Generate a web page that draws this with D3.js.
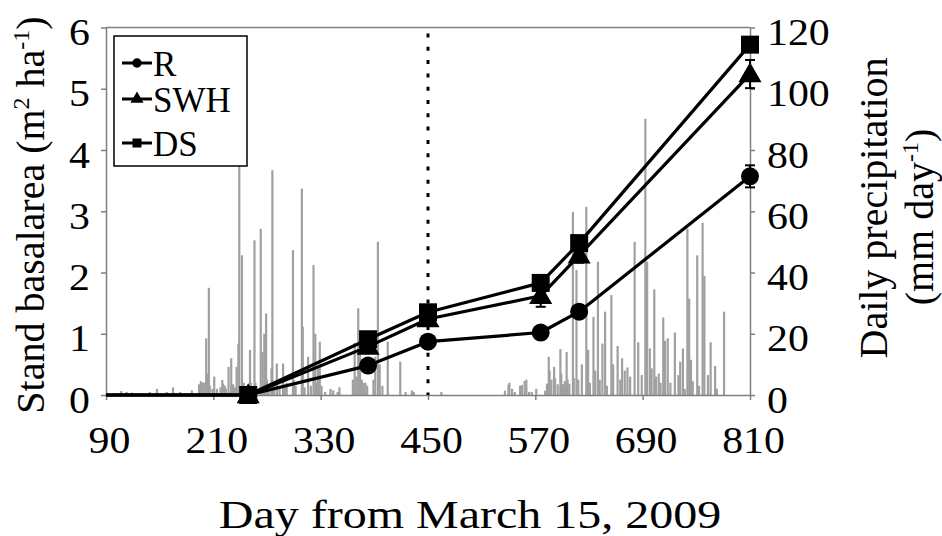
<!DOCTYPE html>
<html>
<head>
<meta charset="utf-8">
<script src="https://cdn.jsdelivr.net/npm/d3@7"></script>
<style>
  html, body { margin: 0; padding: 0; background: #fff; }
  svg { display: block; }
  text { font-family: "Liberation Serif", "Times New Roman", serif; fill: #000; }
</style>
</head>
<body>
<svg id="chart" width="942" height="536"></svg>
<script>
// ---------------- DATA ----------------
const sampleDays = [90, 249, 383, 450, 576, 619, 810];
const markerShown = [false, true, true, true, true, true, true];
const basalR   = [0, 0, 0.48, 0.87, 1.02, 1.36, 3.57];
const basalSWH = [0, 0, 0.79, 1.24, 1.62, 2.28, 5.24];
const basalDS  = [0, 0, 0.91, 1.35, 1.83, 2.48, 5.72];
const errR   = [0, 0, 0.05, 0.07, 0.06, 0.08, 0.18];
const errSWH = [0, 0, 0.06, 0.10, 0.18, 0.12, 0.23];
const errDS  = [0, 0, 0.06, 0.08, 0.08, 0.10, 0.12];
const seriesNames = ["R", "SWH", "DS"];

const precipDays = [107,113,119,139,147,158,165,173,186,194,196,198,200,202,203,205,206,209,211,214,218,220,221,223,224,227,230,232,234,236,238,239,242,244,251,252,256,257,263,265,267,269,270,272,275,276,278,281,284,288,290,292,299,300,302,309,310,312,316,319,322,324,326,327,329,331,335,341,344,349,351,366,368,370,372,374,376,378,380,382,389,391,394,396,399,405,419,425,432,434,465,536,540,541,544,547,553,555,558,560,563,566,571,581,583,585,586,588,591,592,595,598,599,601,603,605,606,608,612,613,616,618,622,627,629,631,635,637,640,642,645,648,650,655,657,662,665,667,670,673,676,681,685,689,693,695,698,700,703,705,708,710,713,715,718,721,726,730,732,735,737,740,742,744,746,751,753,757,759,763,766,771,773,781];
const precipMm = [1.3,1,0.8,1,2,1,2.5,1,1.5,3.5,4.5,4.1,4,18.5,7,35,3,2,6,2,2.5,4.9,3.7,3,2,9.2,12,3.5,2.5,9.2,16.8,85,45.6,4,14.7,4,50.5,4,54.3,14,20,26.6,5,3,8.7,73.4,4,10.3,3,10.3,2.5,4,47.3,4.9,3,67.4,22.3,2.5,12.5,3,42.4,20,4,8.7,17.4,3,1,2,1.5,1,2.5,5,17,6,28.3,17,5,4,4,3,5,12.5,50,10,3,17.4,10.9,1,1.5,1,1,1.4,3.3,4,2,1,3,3.3,4.6,5,1,1,2,1.4,3.7,12.5,8,5,9.2,5.5,3.5,15,7,3.5,4.5,14,5,3.7,59.8,5.5,40.8,5,10,61.4,14.7,4,25.5,8,43.5,5,16.8,27.2,3,32.6,10,16,5,12,8,9,6,50,17.2,6.5,90.2,43.5,15.2,8.7,34.5,6,7,4,25.3,17.7,18.5,4,20.4,6.5,10.9,15.2,2,54.3,31.5,11.5,4.5,45.6,3,56.2,38.9,6.5,17.2,9.5,2,27.2];

const xTicks = [90, 210, 330, 450, 570, 690, 810];
const yLeftTicks = [0, 1, 2, 3, 4, 5, 6];
const yRightTicks = [0, 20, 40, 60, 80, 100, 120];
const transitionDay = 450;

// ---------------- LAYOUT ----------------
const svg = d3.select("#chart");
const L = 106, R = 750, T = 27.5, B = 395;
const x = d3.scaleLinear().domain([90, 810]).range([L, R]);
const yL = d3.scaleLinear().domain([0, 6]).range([B, T]);
const yR = d3.scaleLinear().domain([0, 120]).range([B, T]);
const axisGrey = "#7f7f7f";
const barGrey = "#a0a0a0";
const tickFont = 38, tickScale = 1.1;

// precipitation bars
svg.append("g").selectAll("rect")
  .data(precipDays.map((d, i) => ({ d, v: precipMm[i] })))
  .join("rect")
  .attr("x", p => x(p.d) - 1.1)
  .attr("width", 2.2)
  .attr("y", p => yR(p.v))
  .attr("height", p => yR(0) - yR(p.v))
  .attr("fill", barGrey);

// axes
function styleAxis(g) {
  g.selectAll("path.domain").attr("stroke", axisGrey).attr("stroke-width", 1.5);
  g.selectAll(".tick line").attr("stroke", axisGrey).attr("stroke-width", 1.5);
  g.selectAll(".tick text")
    .style("font-family", '"Liberation Serif", serif')
    .style("font-size", tickFont + "px")
    .attr("fill", "#000");
}

const gx = svg.append("g").attr("transform", `translate(0,${B})`)
  .call(d3.axisBottom(x).tickValues(xTicks).tickSize(5).tickSizeOuter(0).tickPadding(8).tickFormat(d3.format("d")));
styleAxis(gx);
gx.selectAll(".tick text").attr("transform", `translate(3,0) scale(${tickScale},1)`).attr("y", 58).attr("dy", 0);

const gl = svg.append("g").attr("transform", `translate(${L},0)`)
  .call(d3.axisLeft(yL).tickValues(yLeftTicks).tickSize(5).tickSizeOuter(0).tickFormat(d3.format("d")));
styleAxis(gl);
gl.selectAll(".tick text").attr("x", -16 / tickScale).attr("dy", 0).attr("y", 17)
  .attr("transform", `scale(${tickScale},1)`);

const gr = svg.append("g").attr("transform", `translate(${R},0)`)
  .call(d3.axisRight(yR).tickValues(yRightTicks).tickSize(5).tickSizeOuter(0).tickFormat(d3.format("d")));
styleAxis(gr);
gr.selectAll(".tick text").attr("x", 17 / tickScale).attr("dy", 0).attr("y", 17)
  .attr("transform", `scale(${tickScale},1)`);

// top border
svg.append("line")
  .attr("x1", x.range()[0]).attr("x2", x.range()[1])
  .attr("y1", yL(6)).attr("y2", yL(6))
  .attr("stroke", axisGrey).attr("stroke-width", 1.5);

// dotted vertical line
svg.append("line")
  .attr("x1", x(transitionDay)).attr("x2", x(transitionDay))
  .attr("y1", yL(6) + 6).attr("y2", yL(0))
  .attr("stroke", "#000").attr("stroke-width", 3)
  .attr("stroke-dasharray", "4,9.3");

// series
const seriesVals = [basalR, basalSWH, basalDS];
const seriesErr = [errR, errSWH, errDS];
const symTypes = [d3.symbolCircle, d3.symbolTriangle, d3.symbolSquare];
const symSizes = [254, 230, 324];

const line = d3.line().x(p => x(p.d)).y(p => yL(p.v));
const seriesData = seriesVals.map((vals, s) => sampleDays.map((d, i) => ({ d, v: vals[i], e: seriesErr[s][i], show: markerShown[i] })));

seriesData.forEach(pts => {
  svg.append("path").datum(pts).attr("d", line)
    .attr("fill", "none").attr("stroke", "#000").attr("stroke-width", 3.2).attr("stroke-linejoin", "round");
});

seriesData.forEach((pts, s) => {
  const g = svg.append("g");
  const shown = pts.filter(p => p.show);
  shown.filter(p => p.e > 0).forEach(p => {
    const cx = x(p.d);
    g.append("line").attr("x1", cx).attr("x2", cx).attr("y1", yL(p.v - p.e)).attr("y2", yL(p.v + p.e)).attr("stroke", "#000").attr("stroke-width", 2);
    [p.v - p.e, p.v + p.e].forEach(v => {
      g.append("line").attr("x1", cx - 5).attr("x2", cx + 5).attr("y1", yL(v)).attr("y2", yL(v)).attr("stroke", "#000").attr("stroke-width", 2);
    });
  });
  g.selectAll("path.mk").data(shown).join("path").attr("class", "mk")
    .attr("transform", p => `translate(${x(p.d)},${yL(p.v) + (s === 1 ? 1.5 : 0)})`)
    .attr("d", d3.symbol().type(symTypes[s]).size(symSizes[s]))
    .attr("fill", "#000");
});

// legend
const lg = svg.append("g");
lg.append("rect").attr("x", 114).attr("y", 36).attr("width", 133).attr("height", 130)
  .attr("fill", "#fff").attr("stroke", "#000").attr("stroke-width", 1.5);
const legendRowY = [63, 99, 143];
const legSizes = [70, 75, 81];
seriesNames.forEach((name, i) => {
  const yy = legendRowY[i];
  lg.append("line").attr("x1", 122).attr("x2", 152).attr("y1", yy).attr("y2", yy).attr("stroke", "#000").attr("stroke-width", 3);
  lg.append("path").attr("transform", `translate(137,${yy})`).attr("d", d3.symbol().type(symTypes[i]).size(legSizes[i])).attr("fill", "#000");
  lg.append("text").attr("x", 153).attr("y", yy + 13).style("font-size", "35px").text(name);
});

// axis titles
const leftTitle = svg.append("text")
  .attr("transform", "translate(44,215) rotate(-90)")
  .attr("text-anchor", "middle").style("font-size", "40px");
leftTitle.append("tspan").text("Stand basalarea (m");
leftTitle.append("tspan").attr("dy", -15).style("font-size", "24px").text("2");
leftTitle.append("tspan").attr("dy", 15).text(" ha");
leftTitle.append("tspan").attr("dy", -15).style("font-size", "24px").text("-1");
leftTitle.append("tspan").attr("dy", 15).text(")");

svg.append("text")
  .attr("transform", "translate(887,208) rotate(-90)")
  .attr("text-anchor", "middle").style("font-size", "40px")
  .text("Daily precipitation");
const rt2 = svg.append("text")
  .attr("transform", "translate(933,217) rotate(-90)")
  .attr("text-anchor", "middle").style("font-size", "40px");
rt2.append("tspan").text("(mm day");
rt2.append("tspan").attr("dy", -15).style("font-size", "24px").text("-1");
rt2.append("tspan").attr("dy", 15).text(")");

svg.append("text")
  .attr("transform", "translate(470,528) scale(1.2,1)")
  .attr("text-anchor", "middle").style("font-size", "40px")
  .text("Day from March 15, 2009");
</script>
</body>
</html>
